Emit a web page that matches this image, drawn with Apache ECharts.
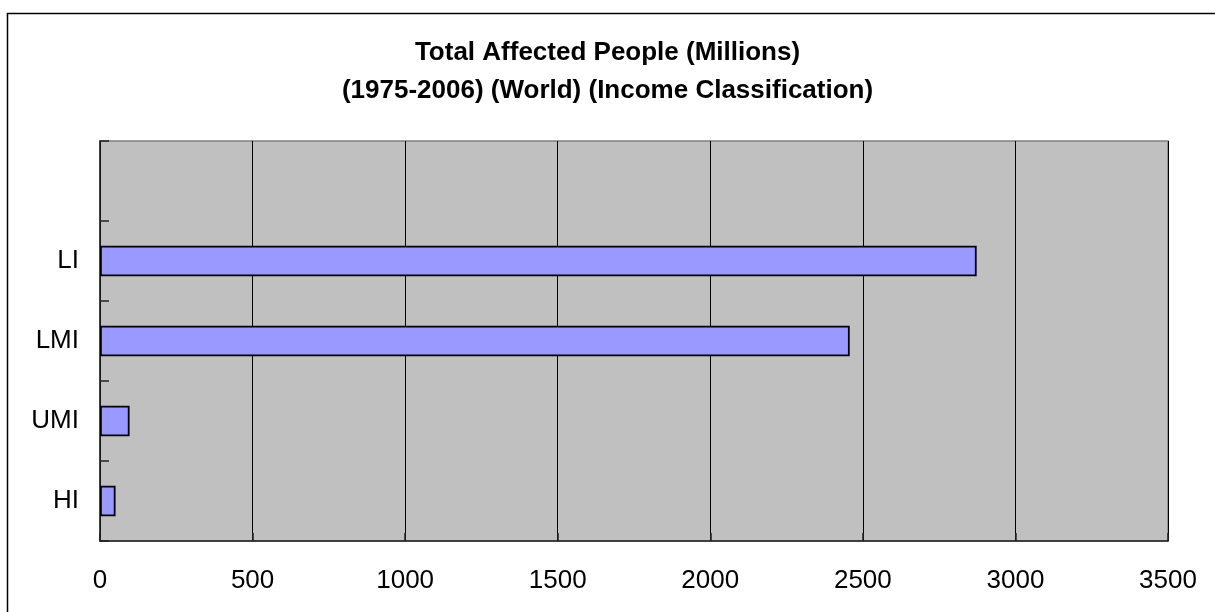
<!DOCTYPE html>
<html>
<head>
<meta charset="utf-8">
<title>Total Affected People (Millions)</title>
<script src="https://cdn.jsdelivr.net/npm/echarts@6/dist/echarts.min.js"></script>
<style>
  html, body { margin: 0; padding: 0; background: #ffffff; }
  #chart { width: 1215px; height: 612px; }
</style>
</head>
<body>
<div id="chart"></div>
<script>
// Income groups, bottom to top; the last slot is left empty
const categories = ['HI', 'UMI', 'LMI', 'LI', ''];
// Total affected people, millions (1975-2006)
const affectedMillions = [51, 97, 2457, 2873, null];
// Value axis range and step
const valueMin = 0;
const valueMax = 3500;
const valueStep = 500;

const titleLines = [
  'Total Affected People (Millions)',
  '(1975-2006) (World) (Income Classification)'
];

const FONT = '"Liberation Sans", Arial, sans-serif';

const chart = echarts.init(document.getElementById('chart'), null, { renderer: 'canvas' });

chart.setOption({
  backgroundColor: '#ffffff',
  animation: false,
  title: {
    text: titleLines.join('\n'),
    left: 'center',
    top: 29,
    textStyle: {
      fontFamily: FONT,
      fontWeight: 'bold',
      fontSize: 26,
      lineHeight: 38,
      color: '#000000'
    }
  },
  graphic: [
    {
      // outer chart frame
      type: 'rect',
      silent: true,
      shape: { x: 7.5, y: 13.5, width: 1220, height: 620 },
      style: { fill: null, stroke: '#000000', lineWidth: 1.5 },
      z: 100
    }
  ],
  grid: {
    left: 100,
    right: 47,
    top: 141,
    bottom: 71,
    show: true,
    backgroundColor: '#c0c0c0',
    borderColor: '#808080',
    borderWidth: 1.5,
    containLabel: false
  },
  xAxis: {
    type: 'value',
    min: valueMin,
    max: valueMax,
    interval: valueStep,
    axisLine: { show: true, onZero: false, lineStyle: { color: '#222222', width: 1.5 } },
    axisTick: { show: true, inside: true, length: 8, lineStyle: { color: '#222222', width: 1.5 } },
    splitLine: { show: true, lineStyle: { color: '#000000', width: 1 } },
    axisLabel: {
      fontFamily: FONT,
      fontSize: 26,
      color: '#000000',
      margin: 27,
      formatter: (v) => String(v)
    }
  },
  yAxis: {
    type: 'category',
    data: categories,
    boundaryGap: true,
    axisLine: { show: true, lineStyle: { color: '#222222', width: 1.5 } },
    axisTick: { show: true, inside: true, length: 9, lineStyle: { color: '#222222', width: 1.5 } },
    splitLine: { show: false },
    axisLabel: {
      fontFamily: FONT,
      fontSize: 26,
      color: '#000000',
      margin: 21
    }
  },
  series: [
    {
      type: 'bar',
      data: affectedMillions,
      barWidth: '38%',
      itemStyle: {
        color: '#9999ff',
        borderColor: '#000000',
        borderWidth: 1.8
      }
    }
  ]
});
</script>
</body>
</html>
